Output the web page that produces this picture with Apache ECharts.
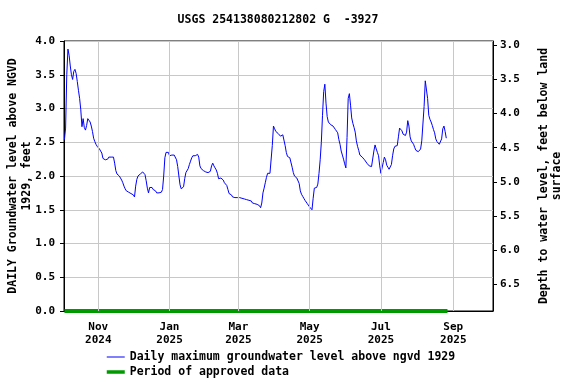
<!DOCTYPE html>
<html>
<head>
<meta charset="utf-8">
<script src="https://cdn.jsdelivr.net/npm/echarts@6/dist/echarts.min.js"></script>
<style>
html,body{margin:0;padding:0;background:#fff;}
#chart{width:576px;height:384px;}
</style>
</head>
<body>
<div id="chart"></div>
<script>
// ---- data ----
const titleText = 'USGS 254138080212802 G  -3927';
const seriesName = 'Daily maximum groundwater level above ngvd 1929';
const approvedName = 'Period of approved data';
const startDate = '2024-10-03'; // first daily value
const dailyMax = [
2.54,2.71,3.50,3.88,3.79,3.63,3.50,3.43,3.55,3.58,3.52,3.40,3.27,3.15,2.98,2.73,2.85,2.72,2.68,2.75,
2.85,2.87,2.80,2.74,2.66,2.56,2.51,2.47,2.44,2.42,2.40,2.37,2.34,2.26,2.25,2.24,2.25,2.25,2.28,2.28,
2.28,2.28,2.28,2.19,2.08,2.03,2.01,2.00,1.98,1.94,1.90,1.85,1.81,1.78,1.77,1.76,1.75,1.74,1.73,1.72,
1.69,1.85,1.95,2.00,2.02,2.03,2.04,2.06,2.06,2.02,1.93,1.82,1.75,1.83,1.84,1.83,1.80,1.79,1.78,1.75,
1.75,1.75,1.76,1.76,1.80,2.00,2.27,2.35,2.35,2.35,2.30,2.30,2.31,2.31,2.31,2.30,2.24,2.14,2.00,1.87,
1.81,1.79,1.84,1.96,2.05,2.07,2.11,2.17,2.22,2.27,2.30,2.30,2.30,2.31,2.32,2.28,2.15,2.11,2.09,2.08,
2.08,2.06,2.06,2.05,2.04,2.07,2.15,2.19,2.15,2.12,2.09,2.04,1.96,1.97,1.97,1.96,1.94,1.90,1.91,1.86,
1.80,1.74,1.74,1.72,1.69,1.67,1.68,1.68,1.68,1.68,1.68,1.67,1.67,1.67,1.66,1.66,1.65,1.65,1.64,1.64,
1.63,1.60,1.59,1.59,1.58,1.58,1.57,1.56,1.53,1.60,1.75,1.82,1.90,1.98,2.04,2.04,2.04,2.04,2.45,2.74,
2.70,2.66,2.66,2.63,2.61,2.59,2.60,2.61,2.61,2.45,2.35,2.29,2.28,2.27,2.25,2.13,2.05,2.00,1.98,1.97,
1.96,1.89,1.78,1.73,1.70,1.67,1.64,1.62,1.59,1.57,1.54,1.52,1.50,1.67,1.82,1.82,1.83,1.88,2.04,2.24,
2.50,2.90,3.25,3.36,3.08,2.88,2.80,2.78,2.76,2.75,2.74,2.72,2.69,2.68,2.64,2.54,2.47,2.37,2.31,2.25,
2.18,2.12,2.57,3.15,3.22,3.05,2.86,2.78,2.72,2.65,2.52,2.44,2.38,2.31,2.29,2.28,2.26,2.24,2.23,2.19,
2.18,2.15,2.15,2.14,2.15,2.37,2.46,2.40,2.35,2.30,2.15,2.04,2.02,2.20,2.28,2.24,2.16,2.13,2.10,2.08,
2.17,2.30,2.40,2.44,2.44,2.45,2.58,2.71,2.73,2.67,2.62,2.61,2.60,2.65,2.82,2.74,2.58,2.52,2.50,2.47,
2.42,2.38,2.36,2.36,2.36,2.40,2.52,2.53,3.03,3.41,3.40,3.15,2.90,2.84,2.80,2.75,2.69,2.64,2.55,2.51,
2.49,2.47,2.47,2.55,2.70,2.74,2.66,2.56
];
const approvedDates = ['2024-10-03', '2025-08-27'];
const approvedValues = [0, 0];
const xTickDates = ['2024-11-01','2025-01-01','2025-03-01','2025-05-01','2025-07-01','2025-09-01'];
const xTickLabels = ['Nov\n2024','Jan\n2025','Mar\n2025','May\n2025','Jul\n2025','Sep\n2025'];
const xRange = ['2024-10-02T15:00:00Z', '2025-10-05T00:00:00Z'];
const rightTicks = [3.0,3.5,4.0,4.5,5.0,5.5,6.0,6.5];
const rightRange = [2.937, 6.891];

// ---- build ----
const DAY = 86400000;
function ts(s){ return Date.parse(s.length === 10 ? s + 'T00:00:00Z' : s); }
const t0 = ts(startDate);
const lineData = dailyMax.map((v,i)=>[t0 + i*DAY, v]);
const approvedData = approvedDates.map((d,i)=>[ts(d), approvedValues[i]]);
const xTickTs = xTickDates.map(ts);

const FONT = 'DejaVu Sans Mono';
const chart = echarts.init(document.getElementById('chart'), null, {renderer:'canvas'});
chart.setOption({
  animation:false,
  backgroundColor:'#ffffff',
  title:{
    text:titleText, left:278, textAlign:'center', top:14, padding:0,
    textStyle:{fontFamily:FONT, fontSize:11.5, fontWeight:'bold', color:'#000'}
  },
  grid:{left:64, right:83, top:41, bottom:73, containLabel:false, outerBoundsMode:'none',
    show:true, borderColor:'#000', borderWidth:1, backgroundColor:'transparent'},
  legend:{
    orient:'vertical', left:105, top:351, height:34, padding:0,
    itemWidth:18, itemHeight:14, itemGap:3,
    data:[
      {name:seriesName, itemStyle:{color:'transparent', borderWidth:0}, lineStyle:{color:'#0000ff', width:1}},
      {name:approvedName, itemStyle:{color:'transparent', borderWidth:0}, lineStyle:{color:'#009900', width:3.5}}
    ],
    textStyle:{fontFamily:FONT, fontSize:11.5, fontWeight:'bold', color:'#000'}
  },
  xAxis:{
    type:'value', min:ts(xRange[0]), max:ts(xRange[1]),
    axisLine:{show:true, lineStyle:{color:'#000', width:1}},
    axisTick:{show:false},
    splitLine:{show:false},
    axisLabel:{
      customValues:xTickTs, margin:10, lineHeight:13,
      fontFamily:FONT, fontSize:11, fontWeight:'bold', color:'#000',
      formatter:function(v){
        let best=0, bd=Infinity;
        xTickTs.forEach((t,i)=>{const d=Math.abs(t-v); if(d<bd){bd=d;best=i;}});
        return xTickLabels[best];
      }
    }
  },
  yAxis:[
    {
      type:'value', min:0, max:4, interval:0.5, position:'left',
      name:'DAILY Groundwater level above NGVD\n1929, feet',
      nameLocation:'middle', nameGap:30, nameRotate:90, nameMoveOverlap:false,
      nameTextStyle:{fontFamily:FONT, fontSize:11.5, fontWeight:'bold', color:'#000', lineHeight:14},
      axisLine:{show:true, lineStyle:{color:'#000'}},
      axisTick:{show:true, length:4, inside:false, lineStyle:{color:'#000'}},
      axisLabel:{margin:9, fontFamily:FONT, fontSize:11, fontWeight:'bold', color:'#000',
        formatter:v=>v.toFixed(1)},
      splitLine:{show:true, lineStyle:{color:'#c8c8c8', width:1}}
    },
    {
      type:'value', inverse:true, min:rightRange[0], max:rightRange[1], position:'right',
      name:'Depth to water level, feet below land\nsurface',
      nameLocation:'middle', nameGap:45, nameRotate:90,
      nameTextStyle:{fontFamily:FONT, fontSize:11.5, fontWeight:'bold', color:'#000', lineHeight:13},
      axisLine:{show:true, lineStyle:{color:'#000'}},
      axisTick:{show:true, length:4, inside:false, customValues:rightTicks, lineStyle:{color:'#000'}},
      axisLabel:{customValues:rightTicks, margin:7, fontFamily:FONT, fontSize:11, fontWeight:'bold', color:'#000',
        formatter:v=>Number(v).toFixed(1)},
      splitLine:{show:false}
    }
  ],
  series:[
    {
      name:'grid-helper', type:'line', data:[], z:1, silent:true,
      markLine:{silent:true, symbol:'none', label:{show:false},
        lineStyle:{color:'#c8c8c8', width:1, type:'solid'},
        data:xTickTs.map(t=>({xAxis:t}))}
    },
    {
      name:seriesName, type:'line', data:lineData, symbol:'none', z:3,
      lineStyle:{color:'#0000ff', width:1}, itemStyle:{color:'#0000ff'}
    },
    {
      name:approvedName, type:'line', data:approvedData, symbol:'none', z:4, clip:false,
      lineStyle:{color:'#009900', width:4}, itemStyle:{color:'#009900'}
    }
  ]
});
</script>
</body>
</html>
